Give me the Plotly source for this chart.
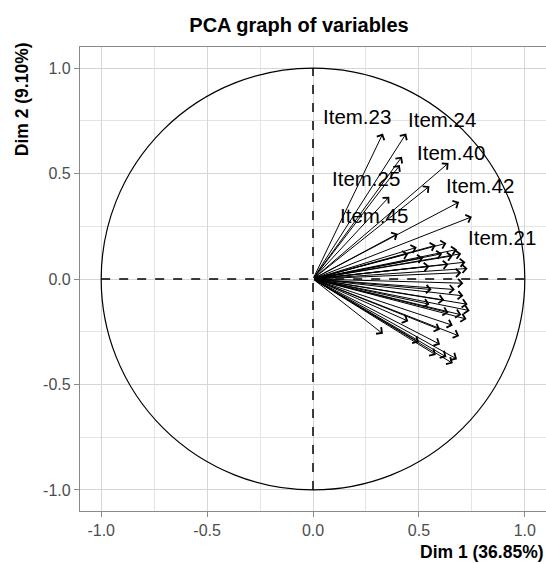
import plotly.graph_objects as go

# arrow tips (Dim 1, Dim 2)
dim1 = [0.33, 0.44, 0.42, 0.41, 0.36, 0.55, 0.64, 0.69, 0.75, 0.40,
        0.63, 0.68, 0.72, 0.49, 0.58, 0.66, 0.70, 0.61, 0.52, 0.73,
        0.64, 0.55, 0.70, 0.45,
        0.71, 0.67, 0.74, 0.725, 0.73, 0.70, 0.60, 0.33, 0.68, 0.63,
        0.50, 0.58, 0.66, 0.55, 0.62, 0.64, 0.69, 0.60, 0.45, 0.66,
        0.56, 0.71]
dim2 = [0.69, 0.69, 0.58, 0.54, 0.39, 0.44, 0.55, 0.365, 0.295, 0.215,
        0.17, 0.14, 0.08, 0.15, 0.16, 0.11, 0.12, 0.12, 0.10, 0.05,
        0.07, 0.06, 0.03, 0.12,
        -0.08, -0.05, -0.15, -0.19, -0.12, -0.17, -0.24, -0.26, -0.38, -0.37,
        -0.30, -0.36, -0.22, -0.12, -0.10, -0.16, -0.27, -0.31, -0.20, -0.40,
        -0.05, -0.02]

# labelled variables and where their names sit
labels = ['Item.23', 'Item.24', 'Item.40', 'Item.25', 'Item.42', 'Item.45', 'Item.21']
label_x = [0.21, 0.61, 0.65, 0.25, 0.79, 0.29, 0.89]
label_y = [0.77, 0.757, 0.60, 0.478, 0.442, 0.30, 0.199]

fnt = 'Liberation Sans, Arial, sans-serif'

fig = go.Figure()

# invisible trace so the axes exist
fig.add_trace(go.Scatter(x=dim1, y=dim2, mode='markers',
                         marker=dict(opacity=0), hoverinfo='skip', showlegend=False))

# unit circle + dashed axes
fig.add_shape(type='circle', xref='x', yref='y', x0=-1, y0=-1, x1=1, y1=1,
              line=dict(color='black', width=1.2))
fig.add_shape(type='line', xref='x', yref='y', x0=-1, y0=0, x1=1, y1=0,
              line=dict(color='black', width=1.5, dash='dash'))
fig.add_shape(type='line', xref='x', yref='y', x0=0, y0=-1, x1=0, y1=1,
              line=dict(color='black', width=1.5, dash='dash'))

anns = []
for a, b in zip(dim1, dim2):
    anns.append(dict(x=a, y=b, ax=0, ay=0, xref='x', yref='y', axref='x', ayref='y',
                     text='', showarrow=True, arrowhead=4, arrowsize=1.6,
                     arrowwidth=1, arrowcolor='black', standoff=0))
for t, a, b in zip(labels, label_x, label_y):
    anns.append(dict(x=a, y=b, xref='x', yref='y', text=t, showarrow=False,
                     font=dict(family=fnt, size=20.5, color='black')))

# axis titles placed like ggplot (right / top aligned)
anns.append(dict(x=1, y=-0.088, xref='paper', yref='paper', xanchor='right', yanchor='middle',
                 text='<b>Dim 1 (36.85%)</b>', showarrow=False,
                 font=dict(family=fnt, size=17.5, color='black')))
anns.append(dict(x=-0.124, y=1.015, xref='paper', yref='paper', xanchor='center', yanchor='top',
                 text='<b>Dim 2 (9.10%)</b>', showarrow=False, textangle=-90,
                 font=dict(family=fnt, size=17.5, color='black')))

fig.update_layout(
    width=546, height=564,
    margin=dict(l=80, r=0, t=47, b=53),
    plot_bgcolor='white', paper_bgcolor='white',
    title=dict(text='<b>PCA graph of variables</b>', x=299/546, xref='container',
               xanchor='center', y=1-25/564, yanchor='middle',
               font=dict(family=fnt, size=20, color='black')),
    annotations=anns,
    showlegend=False,
)

axis_style = dict(
    range=[-1.1, 1.1], tickvals=[-1.0, -0.5, 0.0, 0.5, 1.0],
    ticktext=['-1.0', '-0.5', '0.0', '0.5', '1.0'],
    showgrid=True, gridcolor='#D6D6D6', gridwidth=1,
    minor=dict(tickvals=[-0.75, -0.25, 0.25, 0.75], showgrid=True,
               gridcolor='#E4E4E4', gridwidth=0.8),
    zeroline=False, showline=True, linecolor='#8A8A8A', linewidth=1.2, mirror=True,
    ticks='outside', ticklen=5, tickcolor='#8A8A8A',
    tickfont=dict(family=fnt, size=16, color='#4D4D4D'),
)
fig.update_xaxes(**axis_style)
fig.update_yaxes(**axis_style)

# drop the default page margin so the figure fills the window
fig.write_html("out.html", config={'displayModeBar': False},
               post_script="document.body.style.margin='0';document.body.style.overflow='hidden';")
